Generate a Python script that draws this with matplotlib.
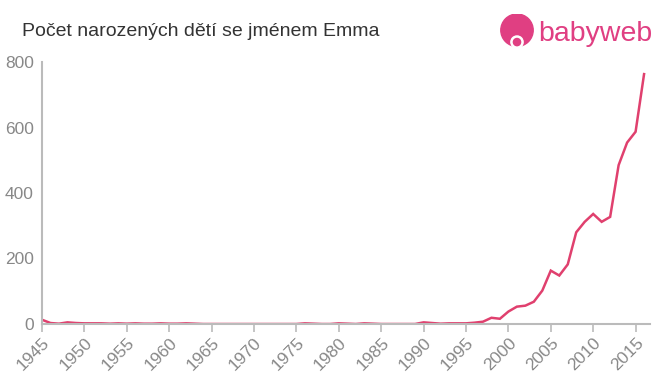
# emma_births.py
# Pocet narozenych deti se jmenem Emma (babyweb style chart)

import matplotlib.pyplot as plt
from matplotlib.patches import Circle

plt.rcParams['font.family'] = ['Liberation Sans', 'DejaVu Sans']

years = list(range(1945, 2017))
counts = [13, 3, 1, 5, 3, 2, 2, 2, 1, 2, 1, 2, 1, 1, 2, 1, 1, 2, 1, 0,
          0, 0, 0, 0, 0, 0, 0, 0, 0, 0, 0, 2, 1, 0, 0, 2, 1, 0, 2, 1,
          0, 0, 0, 0, 0, 5, 3, 1, 2, 2, 2, 4, 7, 19, 16, 38, 53, 56, 68, 102,
          163, 148, 182, 280, 312, 336, 312, 327, 485, 554, 587, 763]
x_ticks = list(range(1945, 2016, 5))
y_ticks = [0, 200, 400, 600, 800]

title = "Počet narozených dětí se jménem Emma"
line_color = "#e0406e"
logo_color = "#e03f82"

fig = plt.figure(figsize=(6.6, 3.75), dpi=100)
ax = fig.add_axes([42 / 660, 1 - 324 / 375, 608 / 660, 262 / 375])

ax.plot(years, counts, color=line_color, linewidth=1.8, solid_joinstyle='miter')

ax.set_xlim(1945, 2016.7)
ax.set_ylim(0, 800)
ax.set_xticks(x_ticks)
ax.set_xticklabels([str(y) for y in x_ticks], rotation=45, ha='right',
                   rotation_mode='anchor')
ax.set_yticks(y_ticks)

for s in ['top', 'right']:
    ax.spines[s].set_visible(False)
for s in ['left', 'bottom']:
    ax.spines[s].set_color('#bbbbbb')
    ax.spines[s].set_linewidth(1.5)
ax.tick_params(axis='x', colors='#bbbbbb', labelcolor='#888888',
               labelsize=12.5, length=6, width=1.2, pad=2)
ax.tick_params(axis='y', length=0, labelcolor='#888888', labelsize=12.5, pad=6)

fig.text(22 / 660, 1 - 32 / 375, title, fontsize=14, color='#333333',
         va='center', ha='left')

# babyweb logo
fig.text(538 / 660, 1 - 34 / 375, "babyweb", fontsize=20.5, color=logo_color,
         va='center', ha='left')
logo = fig.add_axes([499 / 660, 1 - 50 / 375, 36 / 660, 36 / 375])
logo.set_xlim(0, 1)
logo.set_ylim(0, 1)
logo.set_aspect('equal')
logo.axis('off')
logo.add_patch(Circle((0.5, 0.55), 0.45, color=logo_color))
logo.add_patch(Circle((0.5, 0.22), 0.17, color='white'))
logo.add_patch(Circle((0.5, 0.22), 0.1, color=logo_color))

fig.savefig("out.png", dpi=100)
